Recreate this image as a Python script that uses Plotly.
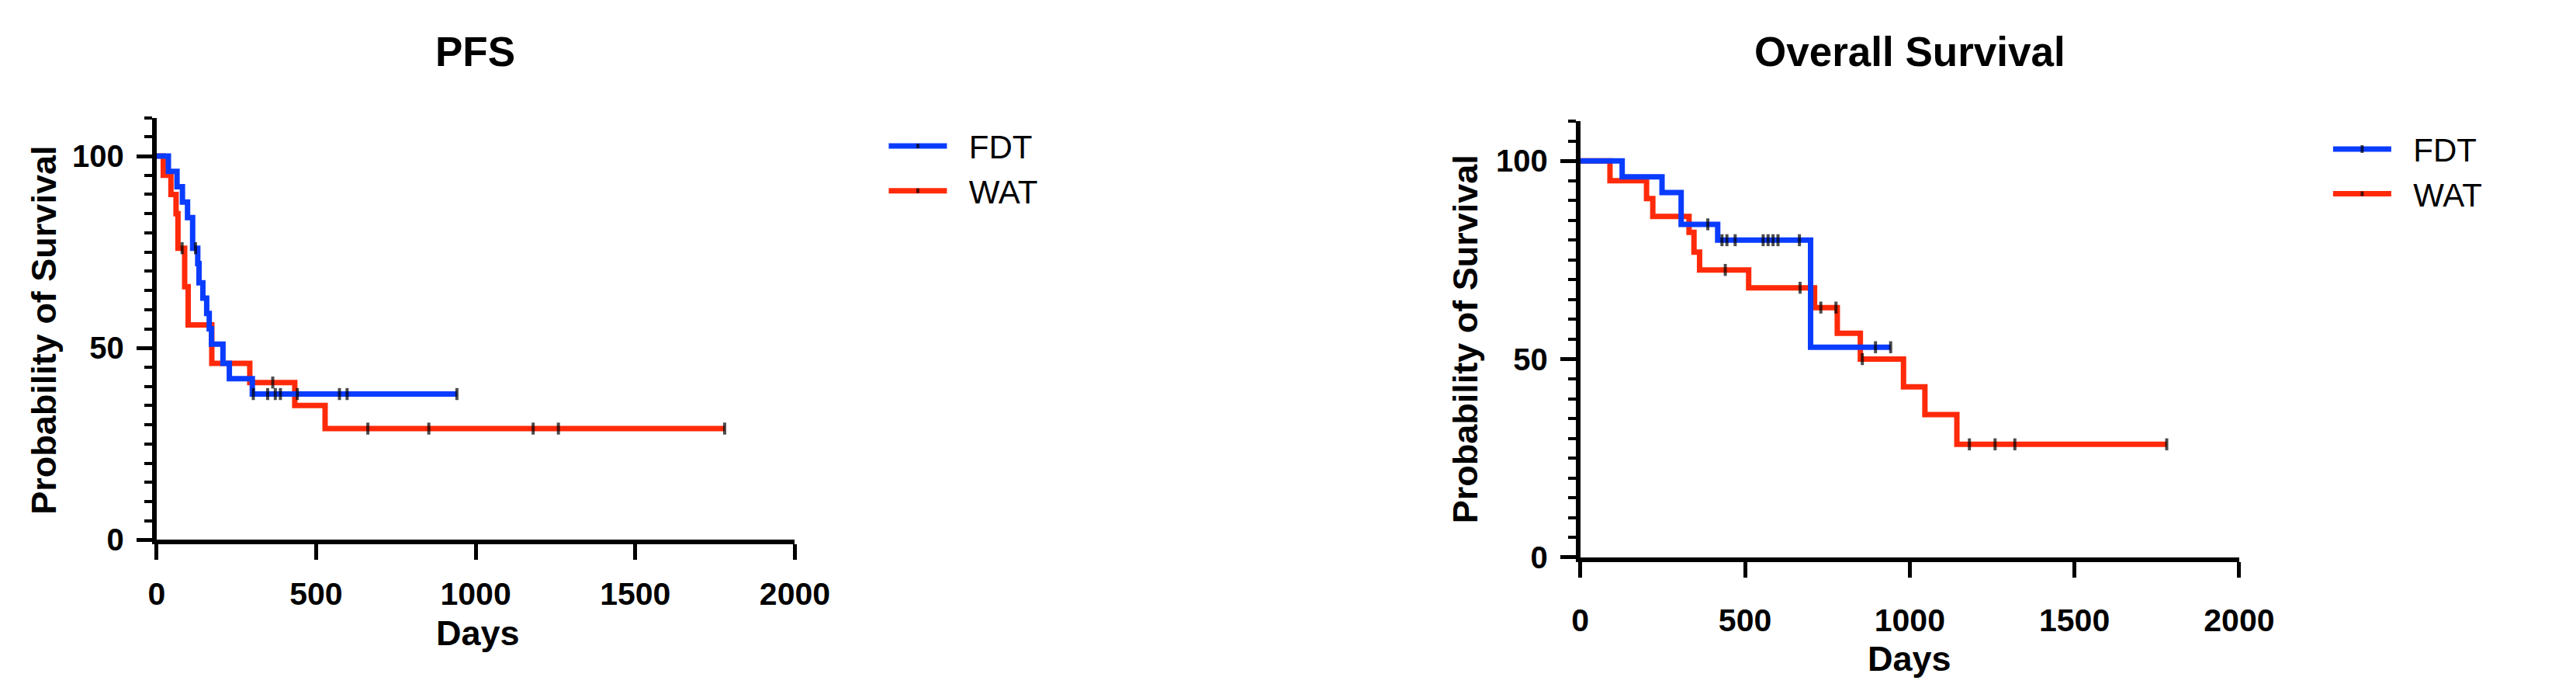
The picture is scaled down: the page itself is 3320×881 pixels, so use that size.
import plotly.graph_objects as go

# PFS - Kaplan-Meier steps (days, % surviving) and censored times
pfs_fdt_days = [0, 37, 64, 81, 97, 113, 129, 133, 145, 157, 165, 172, 208, 228, 300]
pfs_fdt_surv = [100, 96, 92, 88, 84, 76, 72, 67, 63, 59, 55, 51, 46, 42, 38]
pfs_fdt_cens = [122, 303, 348, 372, 388, 441, 573, 597, 941]

pfs_wat_days = [0, 21, 45, 61, 67, 88, 99, 173, 292, 433, 528]
pfs_wat_surv = [100, 95, 90, 85, 76, 66, 56, 46, 41, 35, 29]
pfs_wat_cens = [80, 364, 662, 853, 1180, 1259, 1780]

# Overall survival
os_fdt_days = [0, 127, 248, 306, 417, 699]
os_fdt_surv = [100, 96, 92, 84, 80, 53]
os_fdt_cens = [387, 430, 445, 470, 555, 570, 585, 600, 665, 896, 942]

os_wat_days = [0, 90, 201, 220, 330, 345, 362, 511, 711, 780, 850, 981, 1046, 1143]
os_wat_surv = [100, 95, 90.5, 86, 82, 77, 72.5, 68, 63, 56.5, 50, 43, 36, 28.5]
os_wat_cens = [440, 667, 730, 776, 856, 1181, 1259, 1319, 1780]

x_ticks = [0, 500, 1000, 1500, 2000]
y_ticks = [0, 50, 100]

BLUE = "#0a3cff"
RED = "#ff2a0a"
FONT = "Liberation Sans, Arial, sans-serif"


def km_trace(name, rank, days, surv, cens, color, xa, ya, legend):
    # merge the event steps with the censor marks (censor sits on current level)
    pts = [(d, s, 0) for d, s in zip(days, surv)]
    for c in cens:
        idx = max(i for i, d in enumerate(days) if d <= c)
        pts.append((c, surv[idx], 11))
    pts.sort(key=lambda p: (p[0], -p[1]))
    return go.Scatter(
        x=[p[0] for p in pts], y=[p[1] for p in pts],
        mode="lines+markers", name="\u00a0\u00a0" + name, legendrank=rank,
        line=dict(color=color, width=7, shape="hv"),
        marker=dict(symbol="line-ns", size=[p[2] for p in pts], color="black",
                    line=dict(color="black", width=4)),
        xaxis=xa, yaxis=ya, legend=legend,
        cliponaxis=False, hoverinfo="x+y+name",
    )


fig = go.Figure()
# red first so blue is drawn on top; legendrank puts FDT first in the legend
fig.add_trace(km_trace("WAT", 2, pfs_wat_days, pfs_wat_surv, pfs_wat_cens, RED, "x", "y", "legend"))
fig.add_trace(km_trace("FDT", 1, pfs_fdt_days, pfs_fdt_surv, pfs_fdt_cens, BLUE, "x", "y", "legend"))
fig.add_trace(km_trace("WAT", 2, os_wat_days, os_wat_surv, os_wat_cens, RED, "x2", "y2", "legend2"))
fig.add_trace(km_trace("FDT", 1, os_fdt_days, os_fdt_surv, os_fdt_cens, BLUE, "x2", "y2", "legend2"))

W, H = 3320, 881


def xaxis(dom, anchor, standoff):
    return dict(domain=dom, anchor=anchor, range=[0, 2000], tickvals=x_ticks,
                showline=True, linecolor="black", linewidth=6,
                ticks="outside", ticklen=20, tickwidth=5, tickcolor="black",
                showgrid=False, zeroline=False, ticklabelstandoff=standoff,
                tickfont=dict(family=FONT, size=41, color="black", weight="bold"))


def yaxis(dom, anchor):
    return dict(domain=dom, anchor=anchor, range=[0, 110], tickvals=y_ticks,
                showline=True, linecolor="black", linewidth=6,
                ticks="outside", ticklen=20, tickwidth=5, tickcolor="black",
                minor=dict(dtick=5, ticks="outside", ticklen=10, tickwidth=4, tickcolor="black"),
                showgrid=False, zeroline=False, ticklabelstandoff=8,
                tickfont=dict(family=FONT, size=40, color="black", weight="bold"))


def legend(x, y):
    return dict(x=x, y=y, xanchor="left", yanchor="top", bgcolor="rgba(0,0,0,0)",
                traceorder="normal", itemwidth=75,
                font=dict(family=FONT, size=42, color="black"))


fig.update_layout(
    width=W, height=H, margin=dict(l=0, r=0, t=0, b=0),
    paper_bgcolor="white", plot_bgcolor="white",
    xaxis=xaxis([186 / W, 1023 / W], "y", 8),
    yaxis=yaxis([176 / H, 733.7 / H], "x"),
    xaxis2=xaxis([2053 / W, 2917 / W], "y2", 20),
    yaxis2=yaxis([153 / H, 729 / H], "x2"),
    legend=legend(1141 / W, 1 - 150 / H),
    legend2=legend(3035 / W, 1 - 154 / H),
    showlegend=True,
)

title_font = dict(family=FONT, size=53, color="black", weight="bold")
lab_font = dict(family=FONT, size=45, color="black", weight="bold")
notes = [
    ("PFS", 604, 60, 0, title_font),
    ("Overall Survival", 2485, 60, 0, title_font),
    ("Probability of Survival", 38, 428, -90, lab_font),
    ("Probability of Survival", 1902, 440, -90, lab_font),
    ("Days", 607, 828, 0, lab_font),
    ("Days", 2485, 862, 0, lab_font),
]
for text, px, py, ang, f in notes:
    fig.add_annotation(text=text, x=px / W, y=1 - py / H, xref="paper", yref="paper",
                       xanchor="center", yanchor="middle", showarrow=False,
                       textangle=ang, font=f)

fig.write_html("out.html")
